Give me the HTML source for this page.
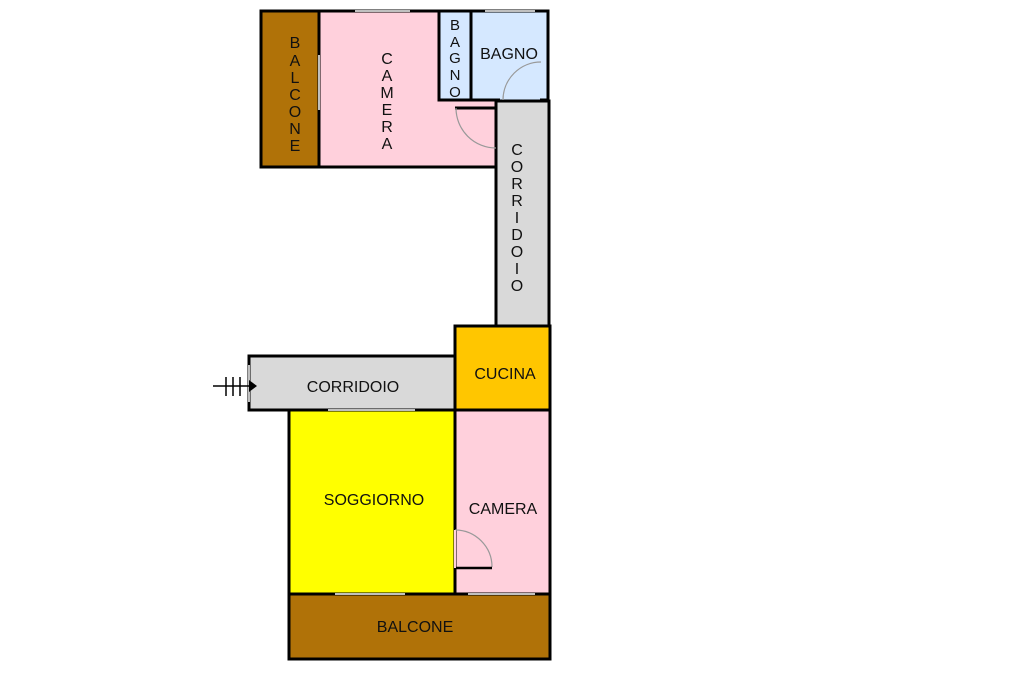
<!DOCTYPE html>
<html><head><style>body{margin:0;background:#fff}svg{display:block}text{font-family:"Liberation Sans",sans-serif;fill:#111}</style></head>
<body>
<svg width="1024" height="682" viewBox="0 0 1024 682">
<g stroke="#000" stroke-width="3">
<rect x="261" y="11" width="58" height="156" fill="#B07208"/>
<rect x="319" y="11" width="177" height="156" fill="#FFD0DC"/>
<rect x="439" y="11" width="32" height="89" fill="#D5E8FF"/>
<rect x="471" y="11" width="77" height="89" fill="#D5E8FF" stroke-width="0"/>
<rect x="496" y="101" width="53" height="225" fill="#D9D9D9"/>
<rect x="455" y="326" width="95" height="84" fill="#FFC600"/>
<rect x="249" y="356" width="206" height="54" fill="#D9D9D9"/>
<rect x="289" y="410" width="166" height="184" fill="#FFFF00"/>
<rect x="455" y="410" width="95" height="184" fill="#FFD0DC"/>
<rect x="289" y="594" width="261" height="65" fill="#B07208"/>
</g>
<!-- bagno walls -->
<g stroke="#000" stroke-width="3" fill="none">
<path d="M471 11 H548 V100"/>
<path d="M471 11 V100 H500"/>
<path d="M540 100 H549"/>
<path d="M455 108 H496"/>
</g>
<!-- windows -->
<g stroke="#fff" stroke-width="1.5">
<line x1="355" y1="11" x2="410" y2="11"/>
<line x1="485" y1="11" x2="535" y2="11"/>
<line x1="319" y1="55" x2="319" y2="110"/>
<line x1="328" y1="410" x2="415" y2="410"/>
<line x1="335" y1="594" x2="405" y2="594"/>
<line x1="468" y1="594" x2="535" y2="594"/>
<line x1="249" y1="365" x2="249" y2="402"/>
</g>
<!-- doors -->
<g stroke="#999" stroke-width="1.2" fill="none">
<path d="M456 108 A40 40 0 0 0 496 148"/>
<path d="M503 100 A38 38 0 0 1 541 62"/>
<path d="M455 530 A37 37 0 0 1 492 567"/>
</g>
<line x1="455" y1="568" x2="492" y2="568" stroke="#000" stroke-width="2.5"/>
<line x1="455" y1="530" x2="455" y2="568" stroke="#FFD0DC" stroke-width="2"/>
<!-- entrance arrow -->
<g stroke="#000" stroke-width="1.5">
<line x1="213" y1="386" x2="254" y2="386"/>
<line x1="226" y1="377" x2="226" y2="396"/>
<line x1="233" y1="377" x2="233" y2="396"/>
<line x1="240" y1="377" x2="240" y2="396"/>
</g>
<path d="M249 380 L257 386 L249 392Z" fill="#000"/>
<g font-size="16" text-anchor="middle">
<text x="295" y="48">B</text><text x="295" y="66">A</text><text x="295" y="83">L</text><text x="295" y="100">C</text><text x="295" y="117">O</text><text x="295" y="134">N</text><text x="295" y="151">E</text>
<text x="387" y="64">C</text><text x="387" y="81">A</text><text x="387" y="98">M</text><text x="387" y="115">E</text><text x="387" y="132">R</text><text x="387" y="149">A</text>
<g font-size="15"><text x="455" y="30">B</text><text x="455" y="47">A</text><text x="455" y="63">G</text><text x="455" y="80">N</text><text x="455" y="97">O</text></g>
<text x="509" y="59">BAGNO</text>
<text x="517" y="155">C</text><text x="517" y="172">O</text><text x="517" y="189">R</text><text x="517" y="206">R</text><text x="517" y="223">I</text><text x="517" y="240">D</text><text x="517" y="257">O</text><text x="517" y="274">I</text><text x="517" y="291">O</text>
<text x="353" y="392">CORRIDOIO</text>
<text x="505" y="379">CUCINA</text>
<text x="374" y="505">SOGGIORNO</text>
<text x="503" y="514">CAMERA</text>
<text x="415" y="632">BALCONE</text>
</g>
</svg>
</body></html>
